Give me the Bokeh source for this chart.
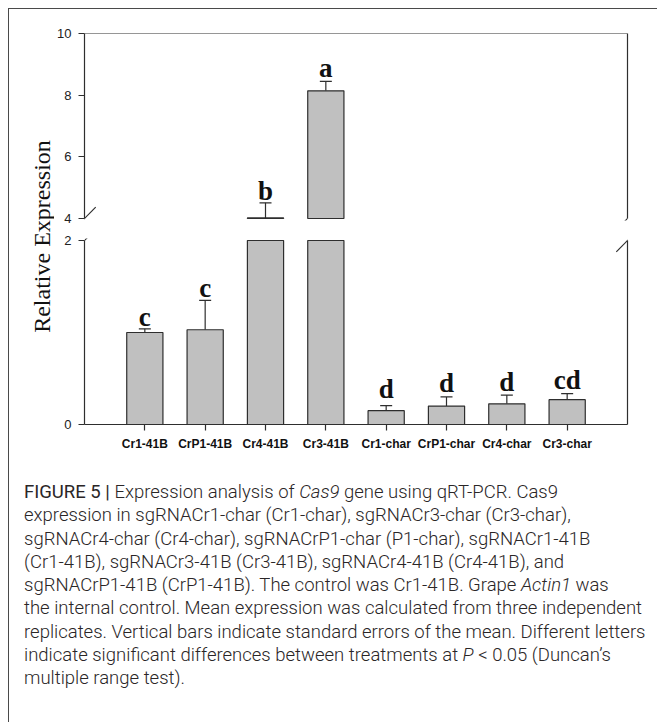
from math import pi
from bokeh.plotting import figure
from bokeh.models import (FactorRange, Range1d, LinearAxis, CategoricalAxis, FixedTicker,
                          ColumnDataSource, Whisker, TeeHead, Arrow, Label, Div, Span)
from bokeh.layouts import column, row
from bokeh.core.properties import value
from bokeh.embed import file_html
from bokeh.resources import INLINE

# ---------------- data ----------------
categories = ["Cr1-41B", "CrP1-41B", "Cr4-41B", "Cr3-41B",
              "Cr1-char", "CrP1-char", "Cr4-char", "Cr3-char"]
means = [1.00, 1.03, 4.02, 8.14, 0.15, 0.20, 0.225, 0.27]
errors = [0.04, 0.32, 0.49, 0.31, 0.055, 0.10, 0.095, 0.065]
letters = ["c", "c", "b", "a", "d", "d", "d", "cd"]
lower_ticks = [0, 2]
upper_ticks = [4, 6, 8, 10]
break_low = 2
break_high = 4
y_top = 10
y_label = "Relative Expression"
caption_lines = [
    "<b>FIGURE 5 |</b> Expression analysis of <i>Cas9</i> gene using qRT-PCR. Cas9",
    "expression in sgRNACr1-char (Cr1-char), sgRNACr3-char (Cr3-char),",
    "sgRNACr4-char (Cr4-char), sgRNACrP1-char (P1-char), sgRNACr1-41B",
    "(Cr1-41B), sgRNACr3-41B (Cr3-41B), sgRNACr4-41B (Cr4-41B), and",
    "sgRNACrP1-41B (CrP1-41B). The control was Cr1-41B. Grape <i>Actin1</i> was",
    "the internal control. Mean expression was calculated from three independent",
    "replicates. Vertical bars indicate standard errors of the mean. Different letters",
    "indicate significant differences between treatments at <i>P</i> &lt; 0.05 (Duncan\u2019s",
    "multiple range test).",
]

# ---------------- styles ----------------
LINE = "#2e2e2e"
FILL = "#c0c0c0"
FRAME_W = 543
UP_PX = 185          # pixels for the 4..10 segment
LO_PX = 184          # pixels for the 0..2 segment
letter_gap = [3, 3, 3, 4, 8, 5, 4, 5]   # px between error cap and letter baseline
MID_TO_BASE = 9      # px from the "middle" anchor down to the baseline
SANS = "Liberation Sans"
SERIF = "Liberation Serif"

xr = FactorRange(factors=categories, range_padding=0.5, range_padding_units="absolute")
n_units = len(categories) + 1.0
x_per_px = n_units / FRAME_W
x_left = -0.5
x_right = len(categories) + 0.5


def base_fig(y_range, frame_h, top_b, bottom_b):
    p = figure(x_range=xr, y_range=y_range, frame_width=FRAME_W, frame_height=frame_h,
               min_border_left=28, min_border_right=32, min_border_top=top_b,
               min_border_bottom=bottom_b, output_backend="svg", toolbar_location=None,
               x_axis_location=None, y_axis_location=None)
    p.grid.visible = False
    p.outline_line_color = None
    return p


def style_axis(ax, ticks, bounds):
    ax.ticker = FixedTicker(ticks=ticks)
    ax.bounds = bounds
    ax.axis_line_color = LINE
    ax.axis_line_width = 1.2
    ax.major_tick_line_color = LINE
    ax.major_tick_line_width = 1.2
    ax.major_tick_out = 6 if ticks else 0
    ax.major_tick_in = 0
    ax.minor_tick_out = 0
    ax.minor_tick_in = 0
    ax.major_label_standoff = 7
    ax.major_label_text_font = SANS
    ax.major_label_text_font_size = "13px"
    ax.major_label_text_color = "#222222"


def add_slashes(p, y_center, y_per_px):
    dx = 11.2 * x_per_px
    dy = 11.3 * y_per_px
    for xc in (x_left, x_right):
        p.add_layout(Arrow(start=None, end=None, x_start=xc - dx, y_start=y_center - dy,
                           x_end=xc + dx, y_end=y_center + dy,
                           line_color=LINE, line_width=1.2))


def add_letters(p, src):
    p.text(x="cat", y="upper", text="letter", y_offset="yoff", source=src,
           text_align="center", text_baseline="middle",
           text_font=value(SERIF), text_font_style="bold", text_font_size="27px",
           text_color="#111111")


def add_whiskers(p, src):
    p.add_layout(Whisker(base="cat", lower="top", upper="upper", source=src,
                         dimension="height", line_color=LINE, line_width=1.2,
                         lower_head=None,
                         upper_head=TeeHead(size=12, line_color=LINE, line_width=1.2)))


# ---------------- upper segment ----------------
up_per_px = (y_top - break_high) / UP_PX
p_up = base_fig(Range1d(break_high - 2 * up_per_px, y_top), UP_PX + 2, 24, 10)

ax = LinearAxis()
style_axis(ax, upper_ticks, (break_high, y_top))
p_up.add_layout(ax, "left")
ax = LinearAxis()
style_axis(ax, [], (break_high, y_top))
p_up.add_layout(ax, "right")
p_up.add_layout(Span(location=y_top, dimension="width", line_color=LINE, line_width=1.2))

up_idx = [i for i, m in enumerate(means) if m > break_high]
src_up = ColumnDataSource(dict(
    cat=[categories[i] for i in up_idx],
    top=[means[i] for i in up_idx],
    bottom=[break_high] * len(up_idx),
    upper=[means[i] + errors[i] for i in up_idx],
    letter=[letters[i] for i in up_idx],
    yoff=[-(letter_gap[i] + MID_TO_BASE) for i in up_idx],
))
p_up.vbar(x="cat", top="top", bottom="bottom", width=0.6, source=src_up,
          fill_color=FILL, line_color=LINE, line_width=1.2)
add_whiskers(p_up, src_up)
add_letters(p_up, src_up)
add_slashes(p_up, break_high, up_per_px)

# ---------------- lower segment ----------------
lo_per_px = break_low / LO_PX
p_lo = base_fig(Range1d(0, break_low + 2 * lo_per_px), LO_PX + 2, 8, 46)

ax = LinearAxis()
style_axis(ax, lower_ticks, (0, break_low))
p_lo.add_layout(ax, "left")
ax = LinearAxis()
style_axis(ax, [], (0, break_low))
p_lo.add_layout(ax, "right")
ax = CategoricalAxis()
ax.axis_line_color = LINE
ax.axis_line_width = 1.2
ax.major_tick_line_color = LINE
ax.major_tick_line_width = 1.2
ax.major_tick_out = 6
ax.major_tick_in = 0
ax.major_label_standoff = 6
ax.major_label_text_font = SANS
ax.major_label_text_font_style = "bold"
ax.major_label_text_font_size = "12px"
ax.major_label_text_color = "#111111"
ax.major_label_orientation = "horizontal"
p_lo.add_layout(ax, "below")

src_lo_bar = ColumnDataSource(dict(cat=categories, top=[min(m, break_low) for m in means]))
p_lo.vbar(x="cat", top="top", bottom=0, width=0.6, source=src_lo_bar,
          fill_color=FILL, line_color=LINE, line_width=1.2)
lo_idx = [i for i, m in enumerate(means) if m + errors[i] <= break_low]
src_lo = ColumnDataSource(dict(
    cat=[categories[i] for i in lo_idx],
    top=[means[i] for i in lo_idx],
    upper=[means[i] + errors[i] for i in lo_idx],
    letter=[letters[i] for i in lo_idx],
    yoff=[-(letter_gap[i] + MID_TO_BASE) for i in lo_idx],
))
add_whiskers(p_lo, src_lo)
add_letters(p_lo, src_lo)
add_slashes(p_lo, break_low, lo_per_px)

# ---------------- y label panel ----------------
LBL_W = 45
LBL_H = 221 + 240
p_lbl = figure(x_range=Range1d(0, LBL_W), y_range=Range1d(0, LBL_H),
               frame_width=LBL_W, frame_height=LBL_H, min_border=0,
               x_axis_type=None, y_axis_type=None, output_backend="svg",
               toolbar_location=None)
p_lbl.grid.visible = False
p_lbl.outline_line_color = None
p_lbl.add_layout(Label(x=32, y=LBL_H - 227, text=y_label, angle=pi / 2,
                       text_align="center", text_baseline="middle",
                       text_font=SERIF, text_font_size="24px", text_color="#111111"))

# ---------------- caption ----------------
caption_html = (
    '<div style="padding:6px 0 0 10px; font-family:Roboto, sans-serif; font-weight:300; '
    'font-size:18.5px; line-height:23.3px; color:#2a2627; white-space:nowrap;">'
    + "<br>".join(caption_lines) + "</div>"
)
cap = Div(text=caption_html, width=648, height=252)

layout = column(row(p_lbl, column(p_up, p_lo, spacing=0), spacing=0), cap, spacing=0,
                styles={"margin-left": "8px", "margin-top": "8px",
                        "border-top": "1px solid #4a4a4a", "border-left": "1px solid #4a4a4a"})

open("out.html", "w").write(file_html(layout, INLINE))
